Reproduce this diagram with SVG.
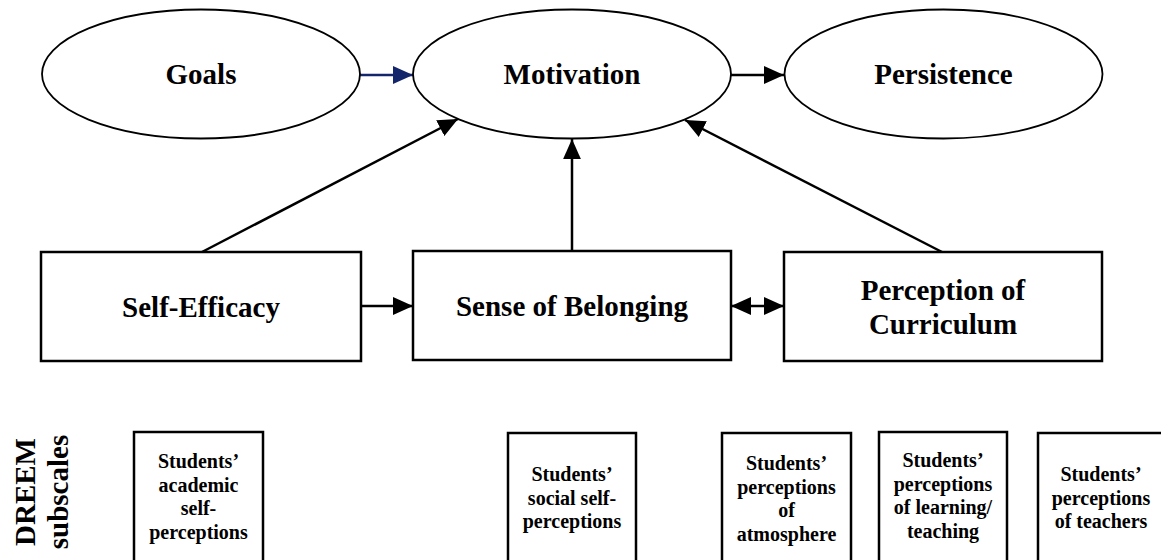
<svg xmlns="http://www.w3.org/2000/svg" width="1161" height="560" viewBox="0 0 1161 560">
<style>
.ell{fill:#fff;stroke:#000;stroke-width:1.8}
.box{fill:#fff;stroke:#000;stroke-width:2.5}
.t{font-family:"Liberation Serif","Times New Roman",serif;font-weight:bold;font-size:29px;text-anchor:middle;fill:#000}
.s{font-family:"Liberation Serif","Times New Roman",serif;font-weight:bold;font-size:20px;text-anchor:middle;fill:#000}
.c{fill:none;stroke:#000;stroke-width:2.5}
</style>
<defs>
<marker id="ah" markerUnits="userSpaceOnUse" markerWidth="20" markerHeight="20" viewBox="0 0 18 18" refX="18" refY="9" orient="auto-start-reverse">
<path d="M0,1 L18,9 L0,17 Z" fill="#000"/>
</marker>
<marker id="ahb" markerUnits="userSpaceOnUse" markerWidth="20" markerHeight="20" viewBox="0 0 18 18" refX="18" refY="9" orient="auto">
<path d="M0,1 L18,9 L0,17 Z" fill="#14266b"/>
</marker>
</defs>
<rect width="1161" height="560" fill="#fff"/>
<g id="connectors">
<line x1="360" y1="75" x2="413" y2="75" stroke="#14266b" stroke-width="2.5" marker-end="url(#ahb)"/>
<line x1="731" y1="75" x2="784" y2="75" class="c" marker-end="url(#ah)"/>
<line x1="202" y1="252" x2="458" y2="119" class="c" marker-end="url(#ah)"/>
<line x1="572" y1="252" x2="572" y2="139" class="c" marker-end="url(#ah)"/>
<line x1="942" y1="252" x2="685" y2="120" class="c" marker-end="url(#ah)"/>
<line x1="361" y1="306" x2="413" y2="306" class="c" marker-end="url(#ah)"/>
<line x1="731" y1="306" x2="784" y2="306" class="c" marker-start="url(#ah)" marker-end="url(#ah)"/>
</g>
<g id="goals">
<ellipse class="ell" cx="201" cy="74" rx="159" ry="64.5"/>
<text class="t" x="201" y="84">Goals</text>
</g>
<g id="motivation">
<ellipse class="ell" cx="572" cy="74" rx="159" ry="64.5"/>
<text class="t" x="572" y="84">Motivation</text>
</g>
<g id="persistence">
<ellipse class="ell" cx="943.5" cy="74" rx="159" ry="64.5"/>
<text class="t" x="943.5" y="84">Persistence</text>
</g>
<g id="self-efficacy">
<rect class="box" x="41" y="252" width="320" height="109"/>
<text class="t" x="201" y="317">Self-Efficacy</text>
</g>
<g id="sense-of-belonging">
<rect class="box" x="413" y="251" width="318" height="109"/>
<text class="t" x="572" y="316">Sense of Belonging</text>
</g>
<g id="perception-of-curriculum">
<rect class="box" x="784" y="252" width="318" height="109"/>
<text class="t" x="943" y="300">Perception of</text>
<text class="t" x="943" y="334">Curriculum</text>
</g>
<g id="dreem-label">
<text class="t" transform="translate(35,492) rotate(-90)">DREEM</text>
<text class="t" transform="translate(68,492) rotate(-90)">subscales</text>
</g>
<g id="academic">
<rect class="box" x="134" y="432" width="129" height="140"/>
<text class="s" x="198.5" y="468">Students’</text>
<text class="s" x="198.5" y="492">academic</text>
<text class="s" x="198.5" y="515">self-</text>
<text class="s" x="198.5" y="539">perceptions</text>
</g>
<g id="social">
<rect class="box" x="508" y="433" width="128" height="140"/>
<text class="s" x="572" y="481">Students’</text>
<text class="s" x="572" y="505">social self-</text>
<text class="s" x="572" y="528">perceptions</text>
</g>
<g id="atmosphere">
<rect class="box" x="722" y="433" width="129" height="140"/>
<text class="s" x="786.5" y="470">Students’</text>
<text class="s" x="786.5" y="494">perceptions</text>
<text class="s" x="786.5" y="517">of</text>
<text class="s" x="786.5" y="541">atmosphere</text>
</g>
<g id="learning">
<rect class="box" x="879" y="432" width="128" height="140"/>
<text class="s" x="943" y="467">Students’</text>
<text class="s" x="943" y="491">perceptions</text>
<text class="s" x="943" y="514">of learning/</text>
<text class="s" x="943" y="538">teaching</text>
</g>
<g id="teachers">
<rect class="box" x="1038" y="433" width="140" height="140"/>
<text class="s" x="1101" y="481">Students’</text>
<text class="s" x="1101" y="505">perceptions</text>
<text class="s" x="1101" y="528">of teachers</text>
</g>
</svg>
